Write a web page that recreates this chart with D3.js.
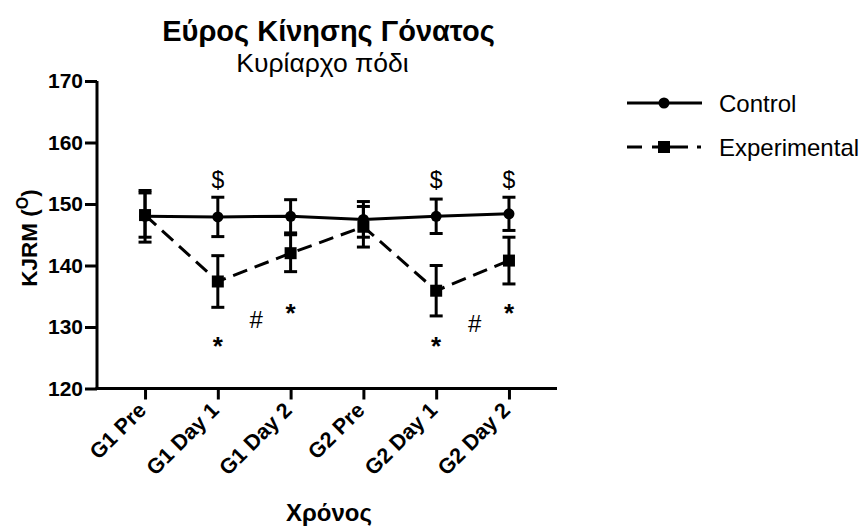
<!DOCTYPE html>
<html>
<head>
<meta charset="utf-8">
<script src="https://cdn.jsdelivr.net/npm/d3@7"></script>
<style>
  body { margin: 0; background: #fff; }
  text { font-family: "Liberation Sans", Arial, sans-serif; fill: #000; }
</style>
</head>
<body>
<div id="chart"></div>
<script>
// Data
const timepoints = ["G1 Pre", "G1 Day 1", "G1 Day 2", "G2 Pre", "G2 Day 1", "G2 Day 2"];
const controlMean = [148.0, 147.9, 148.0, 147.5, 148.0, 148.4];
const controlErr = [4.2, 3.2, 2.7, 2.9, 2.8, 2.7];
const expMean = [148.2, 137.4, 142.0, 146.3, 135.9, 140.8];
const expErr = [3.6, 4.2, 3.0, 3.3, 4.1, 3.8];
const yTicks = [120, 130, 140, 150, 160, 170];
const dollarMarks = [["G1 Day 1", 153.9], ["G2 Day 1", 153.9], ["G2 Day 2", 153.9]];
const starMarks = [["G1 Day 1", 127.9], ["G1 Day 2", 133.3], ["G2 Day 1", 127.9], ["G2 Day 2", 133.3]];
const hashMarks = [["G1 Day 1", 131.3], ["G2 Day 1", 130.5]];

const width = 864, height = 529;

const svg = d3.select("#chart").append("svg")
    .attr("width", width)
    .attr("height", height);

// Scales
const x = d3.scalePoint()
    .domain(timepoints)
    .range([97, 557])
    .padding(0.66);

const y = d3.scaleLinear()
    .domain([120, 170])
    .range([388.5, 81]);

/*----------------------
AXES
----------------------*/
const yAxis = svg.append("g")
    .attr("transform", "translate(97,0)")
    .call(d3.axisLeft(y).tickValues(yTicks).tickSize(12).tickPadding(2));

yAxis.select(".domain").attr("stroke-width", 3).attr("d", `M0,${y(170)}V${y(120)}`);
yAxis.selectAll(".tick line").attr("stroke-width", 3);
yAxis.selectAll(".tick text")
    .style("font-size", "21px")
    .style("font-weight", "bold")
    .attr("font-family", null);

const xAxis = svg.append("g")
    .attr("transform", `translate(0,${y(120)})`)
    .call(d3.axisBottom(x).tickSize(11).tickPadding(4));

xAxis.select(".domain").attr("stroke-width", 3).attr("d", "M95.5,0H557");
xAxis.selectAll(".tick line").attr("stroke-width", 3);
xAxis.selectAll(".tick text")
    .style("font-size", "21.5px")
    .style("font-weight", "bold")
    .attr("font-family", null)
    .attr("text-anchor", "end")
    .attr("dy", null)
    .attr("transform", "translate(2,23) rotate(-45)")
    .attr("y", 0)
    .attr("x", 0);

// Axis titles
svg.append("text")
    .attr("x", 329)
    .attr("y", 521)
    .attr("text-anchor", "middle")
    .style("font-size", "24px")
    .style("font-weight", "bold")
    .text("Χρόνος");

const yLabel = svg.append("text")
    .attr("transform", "translate(37,238) rotate(-90)")
    .attr("text-anchor", "middle")
    .style("font-size", "22.5px")
    .style("font-weight", "bold");
yLabel.append("tspan").text("KJRM (");
yLabel.append("tspan").attr("dy", -9).style("font-size", "16px").text("O");
yLabel.append("tspan").attr("dy", 9).text(")");

// Title
svg.append("text")
    .attr("x", 328.5)
    .attr("y", 41)
    .attr("text-anchor", "middle")
    .style("font-size", "29px")
    .style("font-weight", "bold")
    .text("Εύρος Κίνησης Γόνατος");

svg.append("text")
    .attr("x", 322.5)
    .attr("y", 72)
    .attr("text-anchor", "middle")
    .style("font-size", "26.5px")
    .text("Κυρίαρχο πόδι");

/*----------------------
SERIES
----------------------*/
const series = [
    { name: "Control", mean: controlMean, err: controlErr, dash: null, legendDash: null, shape: "circle" },
    { name: "Experimental", mean: expMean, err: expErr, dash: "15,8", legendDash: "15,10,36,9,4,10", shape: "square" }
];

const line = d3.line()
    .x(d => x(d.t))
    .y(d => y(d.v));

series.forEach(s => {
    const pts = timepoints.map((t, i) => ({ t: t, v: s.mean[i], e: s.err[i] }));
    const g = svg.append("g");

    // error bars
    pts.forEach(p => {
        const cx = x(p.t);
        g.append("line")
            .attr("x1", cx).attr("x2", cx)
            .attr("y1", y(p.v + p.e)).attr("y2", y(p.v - p.e))
            .attr("stroke", "#000").attr("stroke-width", 3);
        [p.v + p.e, p.v - p.e].forEach(v => {
            g.append("line")
                .attr("x1", cx - 6.5).attr("x2", cx + 6.5)
                .attr("y1", y(v)).attr("y2", y(v))
                .attr("stroke", "#000").attr("stroke-width", 3);
        });
    });

    g.append("path")
        .datum(pts)
        .attr("d", line)
        .attr("fill", "none")
        .attr("stroke", "#000")
        .attr("stroke-width", 3)
        .attr("stroke-dasharray", s.dash);

    if (s.shape === "circle") {
        g.selectAll("circle").data(pts).enter().append("circle")
            .attr("cx", d => x(d.t))
            .attr("cy", d => y(d.v))
            .attr("r", 5.5)
            .attr("fill", "#000");
    } else {
        g.selectAll("rect").data(pts).enter().append("rect")
            .attr("x", d => x(d.t) - 6)
            .attr("y", d => y(d.v) - 6)
            .attr("width", 12)
            .attr("height", 12)
            .attr("fill", "#000");
    }
});

/*----------------------
SIGNIFICANCE MARKS
----------------------*/
// marks are positioned by their visual centre
dollarMarks.forEach(([t, v]) => {
    svg.append("text")
        .attr("x", x(t))
        .attr("y", y(v) + 7.5)
        .attr("text-anchor", "middle")
        .style("font-size", "23px")
        .text("$");
});

starMarks.forEach(([t, v]) => {
    svg.append("text")
        .attr("x", x(t))
        .attr("y", y(v) + 15)
        .attr("text-anchor", "middle")
        .style("font-size", "26px")
        .style("font-weight", "bold")
        .text("*");
});

hashMarks.forEach(([t, v]) => {
    svg.append("text")
        .attr("x", x(t) + x.step() / 2 + 2)
        .attr("y", y(v) + 8.5)
        .attr("text-anchor", "middle")
        .style("font-size", "24px")
        .text("#");
});

/*----------------------
LEGEND
----------------------*/
const legend = svg.append("g").attr("transform", "translate(627,103)");
series.forEach((s, i) => {
    const row = legend.append("g").attr("transform", `translate(0,${i * 44})`);
    row.append("line")
        .attr("x1", 0).attr("x2", 75)
        .attr("y1", 0).attr("y2", 0)
        .attr("stroke", "#000").attr("stroke-width", 3)
        .attr("stroke-dasharray", s.legendDash);
    if (s.shape === "circle") {
        row.append("circle").attr("cx", 37).attr("cy", 0).attr("r", 5.5).attr("fill", "#000");
    } else {
        row.append("rect").attr("x", 31).attr("y", -6).attr("width", 12).attr("height", 12).attr("fill", "#000");
    }
    row.append("text")
        .attr("x", 92)
        .attr("y", 8.5)
        .style("font-size", "24px")
        .text(s.name);
});
</script>
</body>
</html>
